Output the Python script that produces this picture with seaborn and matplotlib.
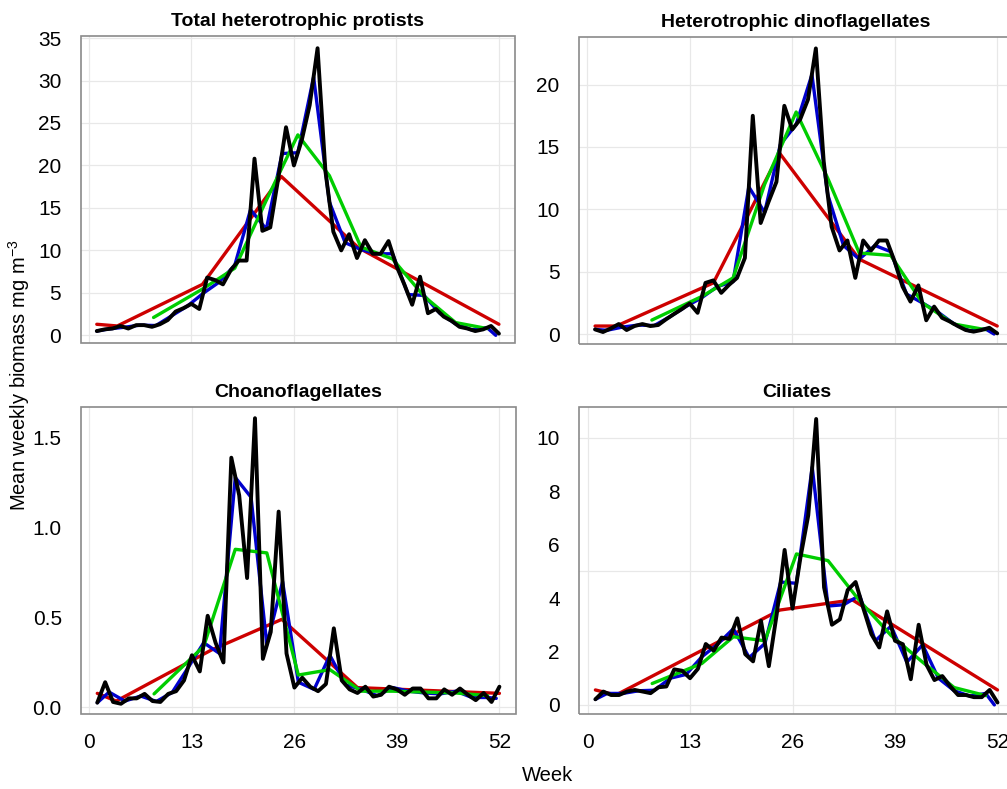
import numpy as np
import pandas as pd
import matplotlib
matplotlib.use("Agg")
import matplotlib.pyplot as plt
from matplotlib.patches import Rectangle
import seaborn as sns

# ---------------- data ----------------
weeks = list(range(1, 53))
titles = ["Total heterotrophic protists", "Heterotrophic dinoflagellates",
          "Choanoflagellates", "Ciliates"]

# weekly (black)
total_weekly = [0.5, 0.7, 0.8, 1.1, 0.8, 1.2, 1.2, 1.0, 1.3, 1.8, 2.8, 3.2, 3.7, 3.1,
                6.8, 6.5, 6.0, 7.7, 8.8, 8.8, 20.8, 12.3, 12.7, 18.4, 24.5, 20.0, 23.0,
                27.1, 33.8, 19.3, 12.2, 10.0, 11.9, 9.1, 11.2, 9.6, 9.6, 11.1, 8.2, 6.0,
                3.6, 6.9, 2.6, 3.1, 2.2, 1.7, 1.0, 0.8, 0.5, 0.7, 1.1, 0.2]
dino_weekly = [0.37, 0.16, 0.45, 0.8, 0.32, 0.64, 0.8, 0.64, 0.72, 1.18, 1.6, 2.0, 2.45,
               1.7, 4.1, 4.3, 3.3, 3.95, 4.5, 6.1, 17.5, 8.9, 10.6, 12.2, 18.3, 16.4,
               17.2, 18.8, 22.9, 13.8, 8.6, 6.7, 7.5, 4.5, 7.5, 6.7, 7.5, 7.5, 5.8, 3.8,
               2.6, 3.9, 1.1, 2.2, 1.3, 1.0, 0.64, 0.32, 0.19, 0.32, 0.5, 0.05]
choano_weekly = [0.026, 0.14, 0.03, 0.02, 0.05, 0.05, 0.075, 0.035, 0.03, 0.075, 0.09,
                 0.15, 0.29, 0.20, 0.51, 0.36, 0.25, 1.39, 1.18, 0.72, 1.61, 0.27, 0.42,
                 1.09, 0.30, 0.11, 0.165, 0.115, 0.09, 0.13, 0.44, 0.15, 0.10, 0.08,
                 0.115, 0.06, 0.07, 0.115, 0.10, 0.07, 0.105, 0.105, 0.05, 0.05, 0.10,
                 0.07, 0.105, 0.07, 0.04, 0.08, 0.03, 0.115]
cil_weekly = [0.21, 0.5, 0.37, 0.37, 0.5, 0.56, 0.5, 0.44, 0.66, 0.69, 1.33, 1.28, 1.0,
              1.35, 2.28, 2.03, 2.52, 2.47, 3.24, 1.9, 1.63, 3.15, 1.45, 3.4, 5.8, 3.6,
              5.5, 7.1, 10.7, 4.4, 3.0, 3.2, 4.3, 4.6, 3.6, 2.65, 2.15, 3.5, 2.4, 2.27,
              0.96, 3.0, 1.5, 0.93, 1.08, 0.7, 0.37, 0.37, 0.29, 0.29, 0.56, 0.09]

# two-weekly (blue)
biweek_x = [1, 2.5, 4.5, 6.5, 8.5, 10.5, 12.5, 14.5, 16.5, 18.5, 20.5, 22.5, 24.5, 26.5,
            28.5, 30.5, 32.5, 34.5, 36.5, 38.5, 40.5, 42.5, 44.5, 46.5, 48.5, 50.5, 51.6]
total_biweek = [0.5, 0.75, 0.95, 1.2, 1.15, 2.3, 3.45, 4.95, 6.25, 8.25, 14.8, 12.5, 21.4,
                21.5, 30.4, 15.7, 10.9, 10.1, 9.6, 9.6, 4.8, 4.7, 2.6, 1.35, 0.65, 0.9, 0.0]
dino_biweek = [0.37, 0.3, 0.56, 0.72, 0.68, 1.39, 2.2, 2.9, 3.8, 4.2, 11.8, 9.75, 15.2,
               16.8, 20.8, 11.2, 7.1, 6.0, 7.1, 6.6, 3.2, 2.5, 1.75, 0.82, 0.25, 0.41, 0.0]
choano_biweek = [0.026, 0.085, 0.035, 0.063, 0.033, 0.083, 0.22, 0.36, 0.30, 1.28, 1.17,
                 0.35, 0.70, 0.14, 0.10, 0.29, 0.125, 0.10, 0.065, 0.11, 0.09, 0.08,
                 0.075, 0.09, 0.055, 0.055, 0.05]
cil_biweek = [0.21, 0.43, 0.43, 0.53, 0.55, 1.0, 1.14, 1.8, 2.27, 2.85, 1.77, 2.3, 4.6,
              4.55, 8.9, 3.7, 3.75, 4.1, 2.4, 2.95, 1.6, 2.25, 1.0, 0.53, 0.33, 0.43, 0.0]

# monthly (green)
month_x = [8.2, 14.5, 18.5, 22.5, 26.5, 30.5, 34.5, 38.5, 42.5, 46.5, 50.5]
total_month = [2.1, 5.5, 7.9, 15.9, 23.6, 18.8, 10.4, 9.0, 4.6, 1.5, 0.8]
dino_month = [1.12, 3.0, 4.5, 12.0, 17.8, 12.5, 6.5, 6.3, 2.5, 0.8, 0.35]
choano_month = [0.075, 0.34, 0.88, 0.86, 0.18, 0.21, 0.09, 0.09, 0.085, 0.08, 0.065]
cil_month = [0.8, 1.55, 2.55, 2.4, 5.65, 5.4, 3.9, 2.6, 1.6, 0.65, 0.35]

# seasonal (red)
total_season_x = [1, 3.6, 14.4, 24.4, 34.2, 52]
total_season = [1.3, 1.1, 6.0, 18.7, 10.3, 1.3]
dino_season_x = [1, 3.7, 16.0, 24.4, 34.5, 52]
dino_season = [0.64, 0.64, 4.1, 14.5, 6.0, 0.64]
choano_season_x = [1, 3.4, 15.5, 24.4, 34.0, 52]
choano_season = [0.078, 0.035, 0.32, 0.49, 0.11, 0.078]
cil_season_x = [1, 3.6, 14.5, 24.4, 33.6, 52]
cil_season = [0.56, 0.37, 2.04, 3.55, 3.93, 0.56]

xticks = [0, 13, 26, 39, 52]
yticks_list = [[0, 5, 10, 15, 20, 25, 30, 35], [0, 5, 10, 15, 20],
               [0.0, 0.5, 1.0, 1.5], [0, 2, 4, 6, 8, 10]]
ytick_labels = [["0", "5", "10", "15", "20", "25", "30", "35"],
                ["0", "5", "10", "15", "20"],
                ["0.0", "0.5", "1.0", "1.5"],
                ["0", "2", "4", "6", "8", "10"]]
ygrid_list = [[0, 5, 10, 15, 20, 25, 30, 35], [0, 5, 10, 15, 20], [0], [0, 5, 10]]
ylims = [(-0.94, 35.24), (-0.80, 23.84), (-0.037, 1.674), (-0.34, 11.16)]

panels = [
    (total_weekly, total_biweek, total_month, total_season_x, total_season),
    (dino_weekly, dino_biweek, dino_month, dino_season_x, dino_season),
    (choano_weekly, choano_biweek, choano_month, choano_season_x, choano_season),
    (cil_weekly, cil_biweek, cil_month, cil_season_x, cil_season),
]

# ---------------- style ----------------
sns.set_style("white")
plt.rcParams["font.family"] = ["Liberation Sans", "DejaVu Sans"]
plt.rcParams["mathtext.fontset"] = "custom"
plt.rcParams["mathtext.rm"] = "Liberation Sans"
plt.rcParams["mathtext.it"] = "Liberation Sans:italic"
plt.rcParams["text.color"] = "black"
plt.rcParams["axes.labelcolor"] = "black"
plt.rcParams["axes.titlecolor"] = "black"

RED, GREEN, BLUE, BLACK = "#CD0000", "#00CD00", "#0000CD", "#000000"
FRAME = "#8a8a8a"
GRID = "#e8e8e8"

W, H = 1007, 789
fig = plt.figure(figsize=(W / 100, H / 100), dpi=100)

pos = [(80.7, 36.0), (579.0, 36.7), (81.2, 406.7), (579.3, 406.7)]
pw, ph = 434.3, 307.3

for i, (left_px, top_px) in enumerate(pos):
    ax = fig.add_axes([left_px / W, 1 - (top_px + ph) / H, pw / W, ph / H])
    weekly, biweek, month, sx, sy = panels[i]

    for g in xticks:
        ax.axvline(g, color=GRID, lw=0.9, zorder=0)
    for g in ygrid_list[i]:
        ax.axhline(g, color=GRID, lw=0.9, zorder=0)

    sns.lineplot(x=sx, y=sy, ax=ax, color=RED, lw=2.4, sort=False, estimator=None, zorder=2)
    sns.lineplot(x=biweek_x, y=biweek, ax=ax, color=BLUE, lw=2.4, sort=False, estimator=None, zorder=3)
    sns.lineplot(x=month_x, y=month, ax=ax, color=GREEN, lw=2.4, sort=False, estimator=None, zorder=4)
    sns.lineplot(x=weeks, y=weekly, ax=ax, color=BLACK, lw=2.8, sort=False, estimator=None, zorder=5)

    ax.set_xlim(-1.04, 54.04)
    ax.set_ylim(*ylims[i])
    ax.set_xticks(xticks)
    ax.set_yticks(yticks_list[i])
    ax.set_yticklabels(ytick_labels[i])
    if i < 2:
        ax.set_xticklabels([])
    ax.set_xlabel("")
    ax.set_ylabel("")
    ax.tick_params(axis="both", which="major", direction="out", length=5, width=1,
                   color=FRAME, labelsize=15, labelcolor="black", pad=6)
    for s in ["left", "bottom"]:
        ax.spines[s].set_position(("outward", 3))
    for s in ax.spines.values():
        s.set_visible(False)
    ax.spines["left"].set_visible(True)
    ax.spines["bottom"].set_visible(True)
    ax.spines["left"].set_color("none")
    ax.spines["bottom"].set_color("none")
    ax.add_patch(Rectangle((0, 0), 1, 1, transform=ax.transAxes, fill=False,
                           edgecolor=FRAME, lw=1.2, clip_on=False, zorder=10))
    ax.set_title(titles[i], fontsize=14, fontweight="bold", pad=7, color="black")
    if ax.get_legend() is not None:
        ax.get_legend().remove()

fig.text(0.019, 0.525, r"Mean weekly biomass mg m$^{\mathregular{-3}}$", rotation=90,
         ha="center", va="center", fontsize=14.5, color="black")
fig.text(0.544, 0.017, "Week", ha="center", va="center", fontsize=14.5, color="black")

fig.savefig("out.png", dpi=100)
